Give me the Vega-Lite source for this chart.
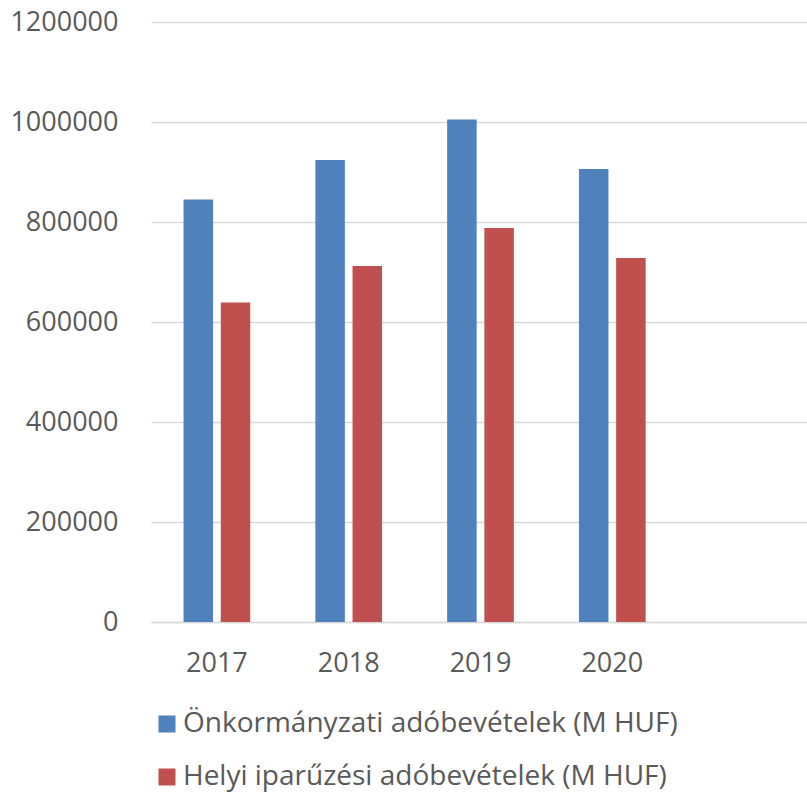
{
  "$schema": "https://vega.github.io/schema/vega-lite/v6.json",
  "autosize": {"type": "none"},
  "width": 656,
  "height": 600,
  "padding": {"left": 151, "top": 22, "right": 0, "bottom": 172},
  "background": "white",
  "config": {"view": {"stroke": null}, "font": "Open Sans"},
  "data": {
    "values": [
      {"year": "2017", "series": "Önkormányzati adóbevételek (M HUF)", "value": 845000},
      {"year": "2017", "series": "Helyi iparűzési adóbevételek (M HUF)", "value": 639000},
      {"year": "2018", "series": "Önkormányzati adóbevételek (M HUF)", "value": 924000},
      {"year": "2018", "series": "Helyi iparűzési adóbevételek (M HUF)", "value": 712000},
      {"year": "2019", "series": "Önkormányzati adóbevételek (M HUF)", "value": 1005000},
      {"year": "2019", "series": "Helyi iparűzési adóbevételek (M HUF)", "value": 788000},
      {"year": "2020", "series": "Önkormányzati adóbevételek (M HUF)", "value": 906000},
      {"year": "2020", "series": "Helyi iparűzési adóbevételek (M HUF)", "value": 728000}
    ]
  },
  "mark": {"type": "bar"},
  "encoding": {
    "x": {
      "field": "year",
      "type": "nominal",
      "scale": {"domain": ["2017", "2018", "2019", "2020", " "], "paddingInner": 0, "paddingOuter": 0, "range": [0, 659]},
      "axis": {
        "title": null,
        "labelAngle": 0,
        "ticks": false,
        "domainColor": "#D9D9D9",
        "domainWidth": 1.3,
        "labelFontSize": 27,
        "labelColor": "#595959",
        "labelBaseline": "middle",
        "labelPadding": 41
      }
    },
    "xOffset": {
      "field": "series",
      "type": "nominal",
      "scale": {
        "domain": ["Önkormányzati adóbevételek (M HUF)", "Helyi iparűzési adóbevételek (M HUF)"],
        "paddingInner": 0.207,
        "paddingOuter": 0.875
      }
    },
    "y": {
      "field": "value",
      "type": "quantitative",
      "scale": {"domain": [0, 1200000]},
      "axis": {
        "title": null,
        "values": [0, 200000, 400000, 600000, 800000, 1000000, 1200000],
        "format": "d",
        "domain": false,
        "ticks": false,
        "labelFontSize": 27,
        "labelColor": "#595959",
        "labelPadding": 33,
        "gridColor": "#D9D9D9",
        "gridWidth": 1.3
      }
    },
    "color": {
      "field": "series",
      "type": "nominal",
      "scale": {
        "domain": ["Önkormányzati adóbevételek (M HUF)", "Helyi iparűzési adóbevételek (M HUF)"],
        "range": ["#4F81BD", "#C0504D"]
      },
      "legend": {
        "orient": "none",
        "legendX": 2,
        "legendY": 688,
        "title": null,
        "direction": "vertical",
        "symbolType": "square",
        "symbolSize": 289,
        "symbolStrokeWidth": 0,
        "symbolOpacity": 1,
        "labelFontSize": 28,
        "labelColor": "#595959",
        "labelOffset": 2,
        "rowPadding": 25,
        "labelLimit": 700,
        "padding": 0
      }
    }
  }
}
